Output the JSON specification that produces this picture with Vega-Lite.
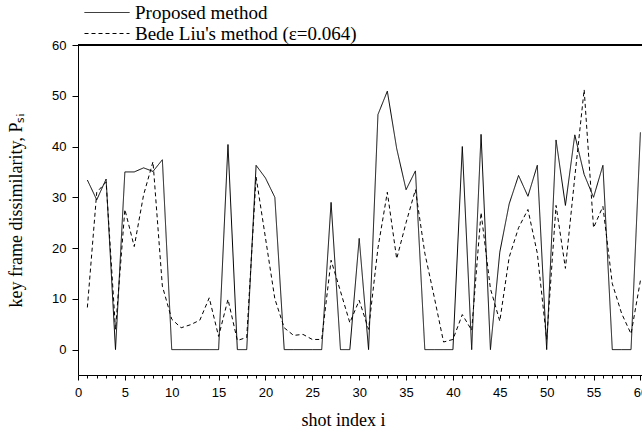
{
  "$schema": "https://vega.github.io/schema/vega-lite/v6.json",
  "width": 564,
  "height": 330,
  "autosize": {"type": "none"},
  "padding": {"left": 78, "top": 45, "right": 0, "bottom": 61},
  "background": "white",
  "config": {
    "view": {"stroke": null},
    "axis": {
      "domainColor": "black",
      "tickColor": "black",
      "labelColor": "black",
      "titleColor": "black",
      "labelFont": "Liberation Sans",
      "labelFontSize": 13,
      "titleFont": "Liberation Serif",
      "titleFontSize": 18,
      "titleFontWeight": "normal",
      "grid": false
    }
  },
  "data": {
    "values": [
      {"i": 1, "method": "Proposed method", "v": 33.4},
      {"i": 2, "method": "Proposed method", "v": 29.5},
      {"i": 3, "method": "Proposed method", "v": 33.6},
      {"i": 4, "method": "Proposed method", "v": 0},
      {"i": 5, "method": "Proposed method", "v": 35},
      {"i": 6, "method": "Proposed method", "v": 35},
      {"i": 7, "method": "Proposed method", "v": 35.8},
      {"i": 8, "method": "Proposed method", "v": 35.1},
      {"i": 9, "method": "Proposed method", "v": 37.4},
      {"i": 10, "method": "Proposed method", "v": 0},
      {"i": 11, "method": "Proposed method", "v": 0},
      {"i": 12, "method": "Proposed method", "v": 0},
      {"i": 13, "method": "Proposed method", "v": 0},
      {"i": 14, "method": "Proposed method", "v": 0},
      {"i": 15, "method": "Proposed method", "v": 0},
      {"i": 16, "method": "Proposed method", "v": 40.4},
      {"i": 17, "method": "Proposed method", "v": 0},
      {"i": 18, "method": "Proposed method", "v": 0},
      {"i": 19, "method": "Proposed method", "v": 36.3},
      {"i": 20, "method": "Proposed method", "v": 33.8},
      {"i": 21, "method": "Proposed method", "v": 30},
      {"i": 22, "method": "Proposed method", "v": 0},
      {"i": 23, "method": "Proposed method", "v": 0},
      {"i": 24, "method": "Proposed method", "v": 0},
      {"i": 25, "method": "Proposed method", "v": 0},
      {"i": 26, "method": "Proposed method", "v": 0},
      {"i": 27, "method": "Proposed method", "v": 29},
      {"i": 28, "method": "Proposed method", "v": 0},
      {"i": 29, "method": "Proposed method", "v": 0},
      {"i": 30, "method": "Proposed method", "v": 21.9},
      {"i": 31, "method": "Proposed method", "v": 0},
      {"i": 32, "method": "Proposed method", "v": 46.3},
      {"i": 33, "method": "Proposed method", "v": 50.9},
      {"i": 34, "method": "Proposed method", "v": 39.6},
      {"i": 35, "method": "Proposed method", "v": 31.5},
      {"i": 36, "method": "Proposed method", "v": 35.2},
      {"i": 37, "method": "Proposed method", "v": 0},
      {"i": 38, "method": "Proposed method", "v": 0},
      {"i": 39, "method": "Proposed method", "v": 0},
      {"i": 40, "method": "Proposed method", "v": 0},
      {"i": 41, "method": "Proposed method", "v": 40},
      {"i": 42, "method": "Proposed method", "v": 0},
      {"i": 43, "method": "Proposed method", "v": 42.4},
      {"i": 44, "method": "Proposed method", "v": 0},
      {"i": 45, "method": "Proposed method", "v": 19.2},
      {"i": 46, "method": "Proposed method", "v": 28.7},
      {"i": 47, "method": "Proposed method", "v": 34.3},
      {"i": 48, "method": "Proposed method", "v": 30.2},
      {"i": 49, "method": "Proposed method", "v": 36.3},
      {"i": 50, "method": "Proposed method", "v": 0},
      {"i": 51, "method": "Proposed method", "v": 41.3},
      {"i": 52, "method": "Proposed method", "v": 28.4},
      {"i": 53, "method": "Proposed method", "v": 42.3},
      {"i": 54, "method": "Proposed method", "v": 34.5},
      {"i": 55, "method": "Proposed method", "v": 30},
      {"i": 56, "method": "Proposed method", "v": 36.3},
      {"i": 57, "method": "Proposed method", "v": 0},
      {"i": 58, "method": "Proposed method", "v": 0},
      {"i": 59, "method": "Proposed method", "v": 0},
      {"i": 60, "method": "Proposed method", "v": 42.8},
      {"i": 1, "method": "Bede Liu's method (ε=0.064)", "v": 8.3},
      {"i": 2, "method": "Bede Liu's method (ε=0.064)", "v": 31},
      {"i": 3, "method": "Bede Liu's method (ε=0.064)", "v": 33},
      {"i": 4, "method": "Bede Liu's method (ε=0.064)", "v": 4},
      {"i": 5, "method": "Bede Liu's method (ε=0.064)", "v": 27.6},
      {"i": 6, "method": "Bede Liu's method (ε=0.064)", "v": 20.3},
      {"i": 7, "method": "Bede Liu's method (ε=0.064)", "v": 30.5},
      {"i": 8, "method": "Bede Liu's method (ε=0.064)", "v": 37},
      {"i": 9, "method": "Bede Liu's method (ε=0.064)", "v": 12.5},
      {"i": 10, "method": "Bede Liu's method (ε=0.064)", "v": 6},
      {"i": 11, "method": "Bede Liu's method (ε=0.064)", "v": 4.3},
      {"i": 12, "method": "Bede Liu's method (ε=0.064)", "v": 4.9},
      {"i": 13, "method": "Bede Liu's method (ε=0.064)", "v": 5.8},
      {"i": 14, "method": "Bede Liu's method (ε=0.064)", "v": 10.2},
      {"i": 15, "method": "Bede Liu's method (ε=0.064)", "v": 2.6},
      {"i": 16, "method": "Bede Liu's method (ε=0.064)", "v": 9.9},
      {"i": 17, "method": "Bede Liu's method (ε=0.064)", "v": 1.8},
      {"i": 18, "method": "Bede Liu's method (ε=0.064)", "v": 2.4},
      {"i": 19, "method": "Bede Liu's method (ε=0.064)", "v": 34},
      {"i": 20, "method": "Bede Liu's method (ε=0.064)", "v": 22},
      {"i": 21, "method": "Bede Liu's method (ε=0.064)", "v": 10},
      {"i": 22, "method": "Bede Liu's method (ε=0.064)", "v": 4.3},
      {"i": 23, "method": "Bede Liu's method (ε=0.064)", "v": 2.8},
      {"i": 24, "method": "Bede Liu's method (ε=0.064)", "v": 3},
      {"i": 25, "method": "Bede Liu's method (ε=0.064)", "v": 2},
      {"i": 26, "method": "Bede Liu's method (ε=0.064)", "v": 2},
      {"i": 27, "method": "Bede Liu's method (ε=0.064)", "v": 17.6},
      {"i": 28, "method": "Bede Liu's method (ε=0.064)", "v": 11.5},
      {"i": 29, "method": "Bede Liu's method (ε=0.064)", "v": 5.3},
      {"i": 30, "method": "Bede Liu's method (ε=0.064)", "v": 9.7},
      {"i": 31, "method": "Bede Liu's method (ε=0.064)", "v": 4},
      {"i": 32, "method": "Bede Liu's method (ε=0.064)", "v": 20},
      {"i": 33, "method": "Bede Liu's method (ε=0.064)", "v": 31},
      {"i": 34, "method": "Bede Liu's method (ε=0.064)", "v": 17.9},
      {"i": 35, "method": "Bede Liu's method (ε=0.064)", "v": 25},
      {"i": 36, "method": "Bede Liu's method (ε=0.064)", "v": 31.5},
      {"i": 37, "method": "Bede Liu's method (ε=0.064)", "v": 19},
      {"i": 38, "method": "Bede Liu's method (ε=0.064)", "v": 10.4},
      {"i": 39, "method": "Bede Liu's method (ε=0.064)", "v": 1.5},
      {"i": 40, "method": "Bede Liu's method (ε=0.064)", "v": 2},
      {"i": 41, "method": "Bede Liu's method (ε=0.064)", "v": 6.9},
      {"i": 42, "method": "Bede Liu's method (ε=0.064)", "v": 3.8},
      {"i": 43, "method": "Bede Liu's method (ε=0.064)", "v": 27},
      {"i": 44, "method": "Bede Liu's method (ε=0.064)", "v": 12},
      {"i": 45, "method": "Bede Liu's method (ε=0.064)", "v": 5.6},
      {"i": 46, "method": "Bede Liu's method (ε=0.064)", "v": 18.2},
      {"i": 47, "method": "Bede Liu's method (ε=0.064)", "v": 24},
      {"i": 48, "method": "Bede Liu's method (ε=0.064)", "v": 27.6},
      {"i": 49, "method": "Bede Liu's method (ε=0.064)", "v": 19},
      {"i": 50, "method": "Bede Liu's method (ε=0.064)", "v": 2},
      {"i": 51, "method": "Bede Liu's method (ε=0.064)", "v": 28.4},
      {"i": 52, "method": "Bede Liu's method (ε=0.064)", "v": 16},
      {"i": 53, "method": "Bede Liu's method (ε=0.064)", "v": 34},
      {"i": 54, "method": "Bede Liu's method (ε=0.064)", "v": 51.2},
      {"i": 55, "method": "Bede Liu's method (ε=0.064)", "v": 24},
      {"i": 56, "method": "Bede Liu's method (ε=0.064)", "v": 28.2},
      {"i": 57, "method": "Bede Liu's method (ε=0.064)", "v": 13},
      {"i": 58, "method": "Bede Liu's method (ε=0.064)", "v": 7.1},
      {"i": 59, "method": "Bede Liu's method (ε=0.064)", "v": 3.1},
      {"i": 60, "method": "Bede Liu's method (ε=0.064)", "v": 13.6}
    ]
  },
  "layer": [
    {
      "mark": {"type": "line", "color": "black", "strokeWidth": 1, "clip": true},
      "encoding": {
        "x": {
          "field": "i",
          "type": "quantitative",
          "scale": {"domain": [0, 60.17], "nice": false, "zero": false},
          "axis": {
            "title": "shot index i",
            "titlePadding": 12,
            "titleX": 265,
            "values": [0,1,2,3,4,5,6,7,8,9,10,11,12,13,14,15,16,17,18,19,20,21,22,23,24,25,26,27,28,29,30,31,32,33,34,35,36,37,38,39,40,41,42,43,44,45,46,47,48,49,50,51,52,53,54,55,56,57,58,59,60],
            "labelExpr": "datum.value % 5 === 0 ? datum.label : ''",
            "labelOverlap": false,
            "labelFlush": false,
            "tickSize": {"condition": {"test": "datum.value % 5 === 0", "value": 5}, "value": 3},
            "labelPadding": 6
          }
        },
        "y": {
          "field": "v",
          "type": "quantitative",
          "scale": {"domain": [-5, 60], "nice": false, "zero": false},
          "axis": {
            "title": "key frame dissimilarity, Pₛᵢ",
            "titlePadding": 26,
            "values": [0, 10, 20, 30, 40, 50, 60],
            "tickSize": 6,
            "labelPadding": 6
          }
        },
        "strokeDash": {
          "field": "method",
          "type": "nominal",
          "scale": {
            "domain": ["Proposed method", "Bede Liu's method (ε=0.064)"],
            "range": [[1, 0], [4, 3]]
          },
          "legend": {
            "title": null,
            "orient": "none",
            "legendX": 0,
            "legendY": -42,
            "padding": 0,
            "symbolType": "M-1,0H14",
            "symbolSize": 36,
            "symbolStrokeColor": "black",
            "symbolFillColor": "transparent",
            "symbolStrokeWidth": 1,
            "labelFont": "Liberation Serif",
            "labelFontSize": 19,
            "labelColor": "black",
            "labelOffset": 38,
            "rowPadding": 1,
            "labelLimit": 400
          }
        }
      }
    },
    {
      "mark": {"type": "rule", "color": "black", "strokeWidth": 1},
      "encoding": {"y": {"datum": 60}}
    }
  ]
}
